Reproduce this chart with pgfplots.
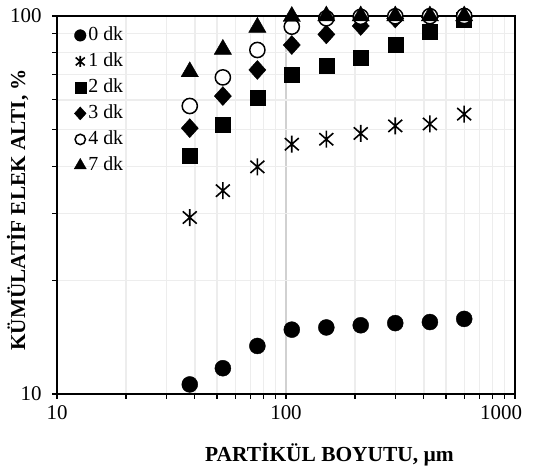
\documentclass[border=0pt]{standalone}
\usepackage{pgfplots}
\pgfplotsset{compat=1.18}
\usepackage{fontspec}
\setmainfont{Liberation Serif}
\pgfdeclareplotmark{xast}{%
  \pgfpathmoveto{\pgfqpoint{0pt}{\pgfplotmarksize}}\pgfpathlineto{\pgfqpoint{0pt}{-\pgfplotmarksize}}%
  \pgfpathmoveto{\pgfqpoint{-.82\pgfplotmarksize}{.72\pgfplotmarksize}}\pgfpathlineto{\pgfqpoint{.82\pgfplotmarksize}{-.72\pgfplotmarksize}}%
  \pgfpathmoveto{\pgfqpoint{-.82\pgfplotmarksize}{-.72\pgfplotmarksize}}\pgfpathlineto{\pgfqpoint{.82\pgfplotmarksize}{.72\pgfplotmarksize}}%
  \pgfusepathqstroke}
\begin{document}
\begin{tikzpicture}
\useasboundingbox (-57bp,-77bp) rectangle (482bp,394bp);
\begin{axis}[
  at={(0,0)}, anchor=south west,
  scale only axis, width=458bp, height=378bp,
  xmode=log, ymode=log,
  xmin=10, xmax=1000, ymin=10, ymax=100,
  xtick={10,100,1000},
  xticklabels={10,100,\makebox[0pt][r]{1000\hspace{-7bp}}},
  ytick={10,100}, yticklabels={10,100},
  minor xtick={20,30,40,50,60,70,80,90,200,300,400,500,600,700,800,900},
  minor ytick={20,30,40,50,60,70,80,90},
  grid=both,
  minor grid style={color=black!7, line width=1.3bp},
  major grid style={color=black!18, line width=1.3bp},
  tick align=outside, tick pos=left,
  major tick length=5bp, minor tick length=5bp,
  every tick/.style={black, line width=1.2bp},
  axis line style={line width=1.5bp},
  ticklabel style={font=\fontsize{21}{21}\selectfont},
  xticklabel style={yshift=-3bp},
  yticklabel style={xshift=-7bp},
  clip=false,
  xlabel={PARTİKÜL BOYUTU, µm},
  ylabel={KÜMÜLATİF ELEK ALTI, \%},
  xlabel style={font=\fontsize{21.5}{21.5}\selectfont\bfseries, at={(axis description cs:0.595,-0.161)}, anchor=center},
  ylabel style={font=\fontsize{21.3}{21.3}\selectfont\bfseries, at={(axis description cs:-0.086,0.487)}, anchor=center},
  legend image code/.code={\draw[#1] plot coordinates {(0bp,0bp)};},
  legend style={at={(axis description cs:0,1)}, anchor=north west, xshift=17bp, yshift=-11bp,
    draw=none, fill=none, inner sep=0pt, font=\fontsize{20}{20}\selectfont,
    row sep=9.5bp, column sep=0bp,
    nodes={inner xsep=2bp, inner ysep=0pt, text height=13bp, text depth=3.5bp}},
  legend cell align=left,
]
\addplot[only marks, mark=*, mark size=8bp, black, legend image post style={mark size=5.8bp}] coordinates {
(38,10.6) (53,11.7) (75,13.4) (106,14.8) (150,15.0) (212,15.2) (300,15.4) (425,15.5) (600,15.8)};
\addlegendentry{0 dk}
\addplot[only marks, mark=xast, mark size=8.5bp, black, mark options={line width=1.6bp}, legend image post style={mark size=5.5bp}] coordinates {
(38,29.3) (53,34.5) (75,39.9) (106,45.8) (150,47.2) (212,48.9) (300,51.2) (425,51.8) (600,55.0)};
\addlegendentry{1 dk}
\addplot[only marks, mark=square*, mark size=7.5bp, black, legend image post style={mark size=5.5bp}] coordinates {
(38,42.7) (53,51.7) (75,60.8) (106,69.8) (150,73.9) (212,77.6) (300,83.8) (425,90.9) (600,97.5)};
\addlegendentry{2 dk}
\addplot[only marks, mark=diamond*, mark size=9.5bp, black, mark options={xscale=1.2}, legend image post style={mark size=6.5bp}] coordinates {
(38,50.5) (53,61.4) (75,72.0) (106,83.8) (150,89.4) (212,94.1) (300,98.5) (425,99.2) (600,99.6)};
\addlegendentry{3 dk}
\addplot[only marks, mark=*, mark size=7.6bp, black, mark options={fill=white, line width=1.5bp}, legend image post style={mark size=5.2bp}] coordinates {
(38,57.8) (53,68.8) (75,81.3) (106,93.7) (150,98.6) (212,99.5) (300,99.8) (425,99.9) (600,100)};
\addlegendentry{4 dk}
\addplot[only marks, mark=triangle*, mark size=10bp, black, legend image post style={mark size=7bp}] coordinates {
(38,71.2) (53,81.6) (75,93.3) (106,99.7) (150,100) (212,100) (300,100) (425,100) (600,100)};
\addlegendentry{7 dk}
\end{axis}
\end{tikzpicture}
\end{document}
